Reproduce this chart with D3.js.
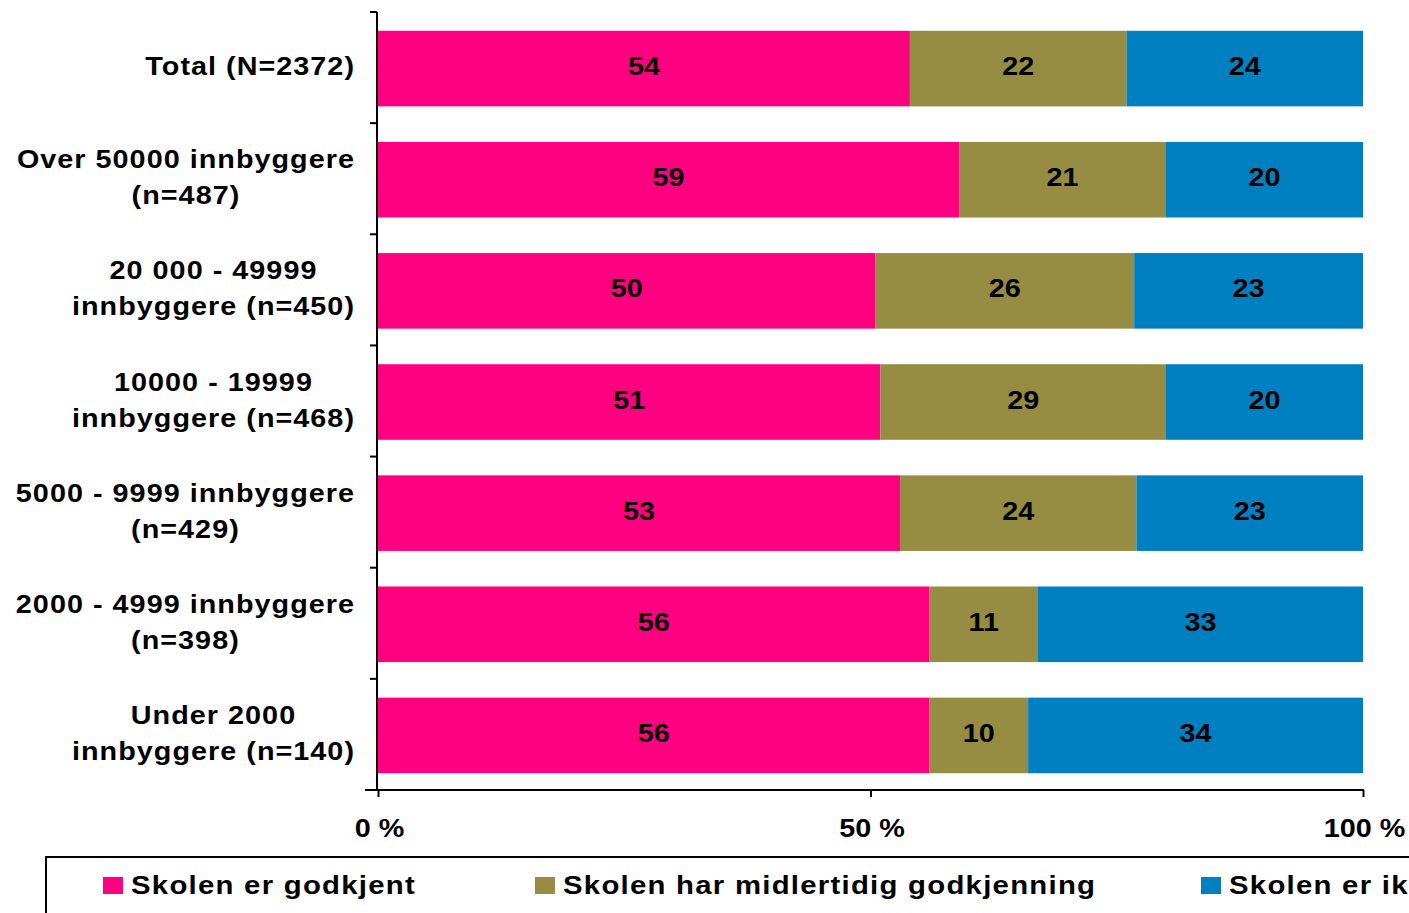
<!DOCTYPE html>
<html>
<head>
<meta charset="utf-8">
<script src="https://cdn.jsdelivr.net/npm/d3@7"></script>
<style>
  body { margin: 0; background: #fff; }
  svg { display: block; font-family: "Liberation Sans", Arial, sans-serif; font-weight: bold; }
</style>
</head>
<body>
<svg width="1409" height="913"></svg>
<script>
// categories, top to bottom
const categories = [
  ['Total (N=2372)'],
  ['Over 50000 innbyggere', '(n=487)'],
  ['20 000 - 49999', 'innbyggere (n=450)'],
  ['10000 - 19999', 'innbyggere (n=468)'],
  ['5000 - 9999 innbyggere', '(n=429)'],
  ['2000 - 4999 innbyggere', '(n=398)'],
  ['Under 2000', 'innbyggere (n=140)']
];
const seriesNames = ['Skolen er godkjent', 'Skolen har midlertidig godkjenning', 'Skolen er ikke godkjent'];
const godkjent = [54, 59, 50, 51, 53, 56, 56];
const midlertidig = [22, 21, 26, 29, 24, 11, 10];
const ikke = [24, 20, 23, 20, 23, 33, 34];
const tickLabels = ['0 %', '50 %', '100 %'];
const colors = ['#ff0080', '#968c42', '#0080c0'];

const svg = d3.select('svg');
// the original text is a bit wider than Arial, so stretch it horizontally
const SX = 1.15;

const rows = categories.map((c, i) => {
  const vals = [godkjent[i], midlertidig[i], ikke[i]];
  const sum = d3.sum(vals);
  let acc = 0;
  return {
    key: i,
    lines: c,
    segs: vals.map((v, j) => {
      const s = {v: v, j: j, row: i, x0: acc / sum, x1: (acc + v) / sum};
      acc += v;
      return s;
    })
  };
});

const x = d3.scaleLinear().domain([0, 1]).range([378, 1363]);
const y = d3.scaleBand().domain(d3.range(categories.length)).range([12, 790]).paddingInner(0.32).paddingOuter(0.16);

// bars
const row = svg.append('g').selectAll('g')
  .data(rows).enter().append('g');

row.selectAll('rect')
  .data(d => d.segs)
  .enter().append('rect')
    .attr('x', d => x(d.x0))
    .attr('width', d => x(d.x1) - x(d.x0))
    .attr('y', d => y(d.row) + 1)
    .attr('height', y.bandwidth())
    .attr('fill', d => colors[d.j]);

row.selectAll('g.val')
  .data(d => d.segs)
  .enter().append('g')
    .attr('class', 'val')
    .attr('transform', d => `translate(${(x(d.x0) + x(d.x1)) / 2},${y(d.row) + y.bandwidth() / 2 + 7.5}) scale(${SX},1)`)
  .append('text')
    .attr('text-anchor', 'middle')
    .attr('font-size', 25)
    .attr('fill', '#000')
    .text(d => d.v);

// vertical axis with ticks at band boundaries
const bounds = d3.range(categories.length + 1).map(i => 12 + i * (778 / categories.length));
svg.append('line').attr('x1', 377).attr('x2', 377).attr('y1', 12).attr('y2', 791)
  .attr('stroke', '#000').attr('stroke-width', 2);
svg.append('g').selectAll('line').data(bounds).enter().append('line')
  .attr('x1', 370).attr('x2', 377).attr('y1', d => d).attr('y2', d => d)
  .attr('stroke', '#000').attr('stroke-width', 2);

// category labels: lines centred, block right-aligned near the axis
const lab = svg.append('g').selectAll('g').data(rows).enter().append('g');
const labText = lab.append('text')
  .attr('font-size', 25)
  .attr('fill', '#000')
  .attr('text-anchor', 'middle')
  .style('letter-spacing', '0.9px');
labText.each(function(d) {
  const t = d3.select(this);
  const n = d.lines.length;
  d.lines.forEach((l, k) => {
    t.append('tspan').attr('x', 0).attr('y', (k - (n - 1) / 2) * 36).text(l);
  });
});
lab.attr('transform', function(d) {
  let w = 0;
  d3.select(this).selectAll('tspan').each(function() { w = Math.max(w, this.getComputedTextLength()); });
  const cx = 355 - w * SX / 2;
  const cy = y(d.key) + y.bandwidth() / 2 + 7.5;
  return `translate(${cx},${cy}) scale(${SX},1)`;
});

// bottom axis
const xAxis = d3.axisBottom(x).tickValues([0, 0.5, 1]).tickSize(7)
  .tickFormat((d, i) => tickLabels[i]);
const gx = svg.append('g').attr('transform', 'translate(0,790)').call(xAxis);
gx.select('.domain').remove();
gx.selectAll('.tick line').attr('stroke', '#000').attr('stroke-width', 2);
gx.selectAll('.tick text')
  .attr('font-size', 25).attr('font-family', '"Liberation Sans", Arial, sans-serif')
  .attr('font-weight', 'bold').attr('fill', '#000')
  .attr('y', 0).attr('dy', 0)
  .attr('transform', `translate(1,47) scale(${SX},1)`);
svg.append('line').attr('x1', 365).attr('x2', 1364).attr('y1', 790).attr('y2', 790)
  .attr('stroke', '#000').attr('stroke-width', 2);

// legend box (clipped at the right edge, as in the original)
svg.append('path').attr('d', 'M46,913 V857 H1409')
  .attr('fill', 'none').attr('stroke', '#000').attr('stroke-width', 2);
const legX = [103, 535, 1201];
const leg = svg.append('g').selectAll('g').data(seriesNames).enter().append('g')
  .attr('transform', (d, i) => `translate(${legX[i]},877)`);
leg.append('rect').attr('width', 20).attr('height', 17).attr('fill', (d, i) => colors[i]);
leg.append('text')
  .attr('transform', `translate(28,17) scale(${SX},1)`)
  .attr('font-size', 25.5).attr('fill', '#000')
  .style('letter-spacing', '1.1px').text(d => d);
</script>
</body>
</html>
